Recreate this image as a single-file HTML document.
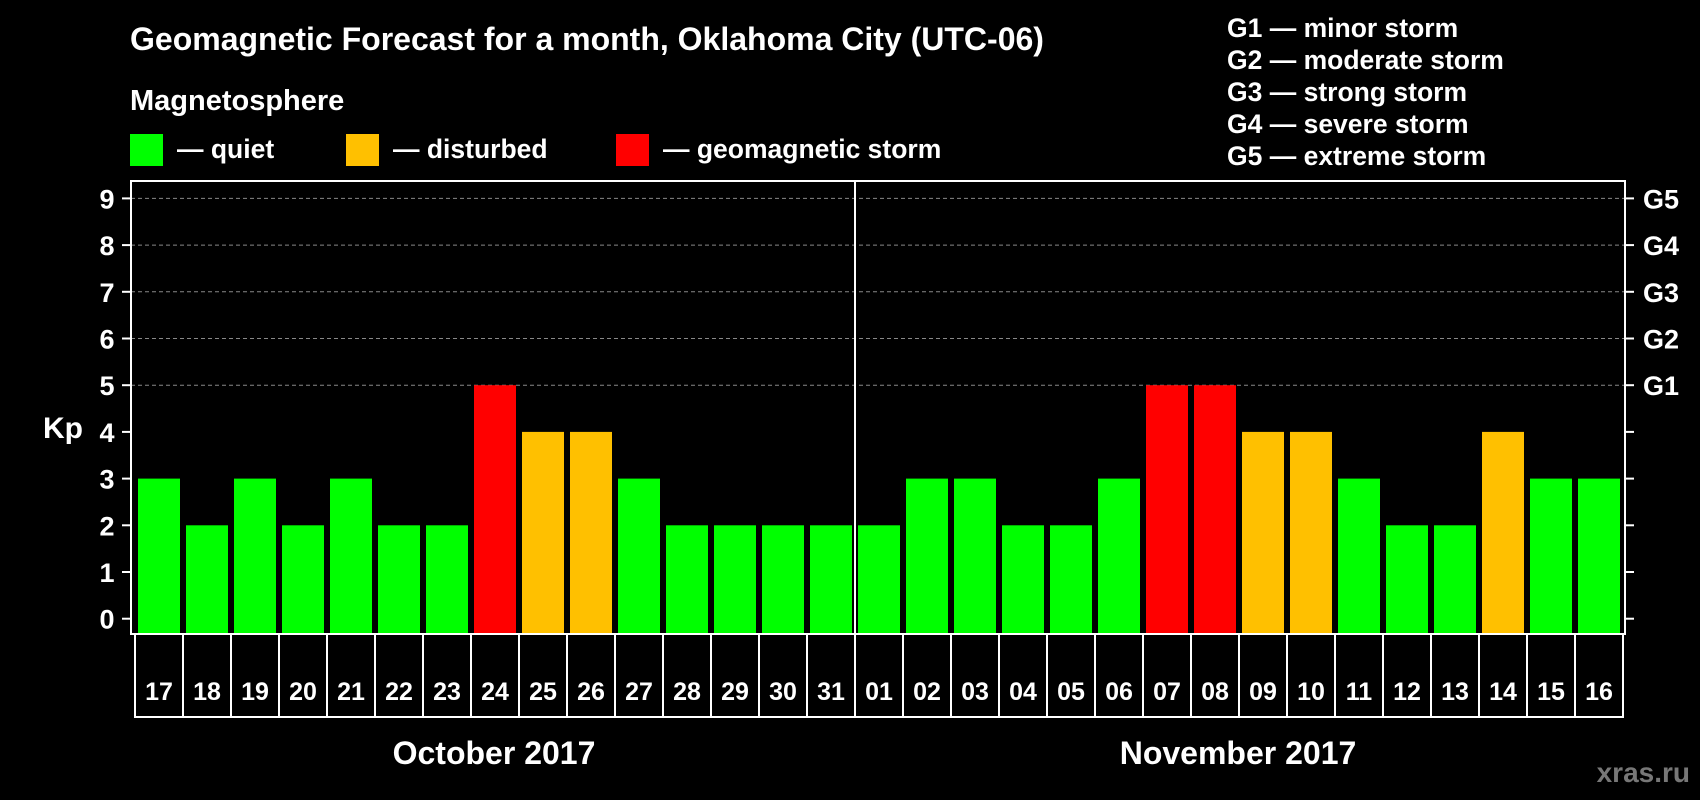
<!DOCTYPE html>
<html><head><meta charset="utf-8"><style>
html,body{margin:0;padding:0;background:#000;}
svg{display:block;font-family:"Liberation Sans",Arial,sans-serif;font-weight:bold;}
</style></head><body>
<svg width="1700" height="800" viewBox="0 0 1700 800">
<rect x="0" y="0" width="1700" height="800" fill="#000"/>
<text x="130" y="50" fill="#fff" font-size="32">Geomagnetic Forecast for a month, Oklahoma City (UTC-06)</text>
<text x="130" y="110" fill="#fff" font-size="29">Magnetosphere</text>
<g><rect x="130" y="134" width="33" height="32" fill="#00ff00"/><text x="177" y="158" fill="#fff" font-size="26.5">— quiet</text></g>
<g><rect x="346" y="134" width="33" height="32" fill="#ffc000"/><text x="393" y="158" fill="#fff" font-size="26.5">— disturbed</text></g>
<g><rect x="616" y="134" width="33" height="32" fill="#ff0000"/><text x="663" y="158" fill="#fff" font-size="26.5">— geomagnetic storm</text></g>
<g fill="#fff" font-size="26.5">
<text x="1227" y="37">G1 — minor storm</text>
<text x="1227" y="69">G2 — moderate storm</text>
<text x="1227" y="101">G3 — strong storm</text>
<text x="1227" y="133">G4 — severe storm</text>
<text x="1227" y="165">G5 — extreme storm</text>
</g>
<text x="63" y="438" fill="#fff" font-size="30" text-anchor="middle">Kp</text>
<g id="grid"></g><g id="bars"></g><g id="axes"></g><g id="days"></g>
<text x="494" y="764" fill="#fff" font-size="32" text-anchor="middle">October 2017</text>
<text x="1238" y="764" fill="#fff" font-size="32" text-anchor="middle">November 2017</text>
<text x="1690" y="782" fill="#777" font-size="28" text-anchor="end">xras.ru</text>
</svg>
<script>
const days=["17","18","19","20","21","22","23","24","25","26","27","28","29","30","31","01","02","03","04","05","06","07","08","09","10","11","12","13","14","15","16"];
const kp=[3,2,3,2,3,2,2,5,4,4,3,2,2,2,2,2,3,3,2,2,3,5,5,4,4,3,2,2,4,3,3];
const yTicks=[0,1,2,3,4,5,6,7,8,9];
const gLabels=["G1","G2","G3","G4","G5"];
const NS="http://www.w3.org/2000/svg";
const x0=135,step=48,pl=131,pr=1625,pt=181,pb=634;
const yScale=v=>618.7-v*46.7;
function mk(t,a,p){const e=document.createElementNS(NS,t);for(const k in a)e.setAttribute(k,a[k]);p.appendChild(e);return e;}
const col=v=>v>=5?"#ff0000":v==4?"#ffc000":"#00ff00";
const grid=document.getElementById('grid'),bars=document.getElementById('bars'),axes=document.getElementById('axes'),dg=document.getElementById('days');
yTicks.forEach(t=>{
 if(t>=5){const l=mk('line',{x1:pl,x2:pr,y1:yScale(t),y2:yScale(t),stroke:'#888','stroke-width':1,'stroke-dasharray':'4,3'},grid);
 
 }
 mk('line',{x1:pl-9,x2:pl,y1:yScale(t),y2:yScale(t),stroke:'#fff','stroke-width':2},axes);
 mk('line',{x1:pr,x2:pr+9,y1:yScale(t),y2:yScale(t),stroke:'#fff','stroke-width':2},axes);
 const tx=mk('text',{x:107,y:yScale(t)+10,fill:'#fff','font-size':27,'text-anchor':'middle'},axes);tx.textContent=t;
 
 
});
gLabels.forEach((g,i)=>{const tx=mk('text',{x:1643,y:yScale(5+i)+10,fill:'#fff','font-size':27},axes);tx.textContent=g;
 
 });
kp.forEach((v,i)=>{
 const r=mk('rect',{x:x0+i*step+3,y:yScale(v),width:42,height:pb-yScale(v),fill:col(v)},bars);
 
 
});
mk('rect',{x:pl,y:pt,width:pr-pl,height:pb-pt,fill:'none',stroke:'#fff','stroke-width':2},axes);
mk('line',{x1:x0+15*step,x2:x0+15*step,y1:pt,y2:pb,stroke:'#fff','stroke-width':2},axes);
mk('rect',{x:x0,y:pb,width:days.length*step,height:83,fill:'none',stroke:'#fff','stroke-width':2},dg);
days.forEach((d,i)=>{
 if(i>0)mk('line',{x1:x0+i*step,x2:x0+i*step,y1:pb,y2:pb+83,stroke:'#fff','stroke-width':2},dg);
 const tx=mk('text',{x:x0+i*step+24,y:700,fill:'#fff','font-size':25,'text-anchor':'middle'},dg);tx.textContent=d;
 
 
});
</script>
</body></html>
